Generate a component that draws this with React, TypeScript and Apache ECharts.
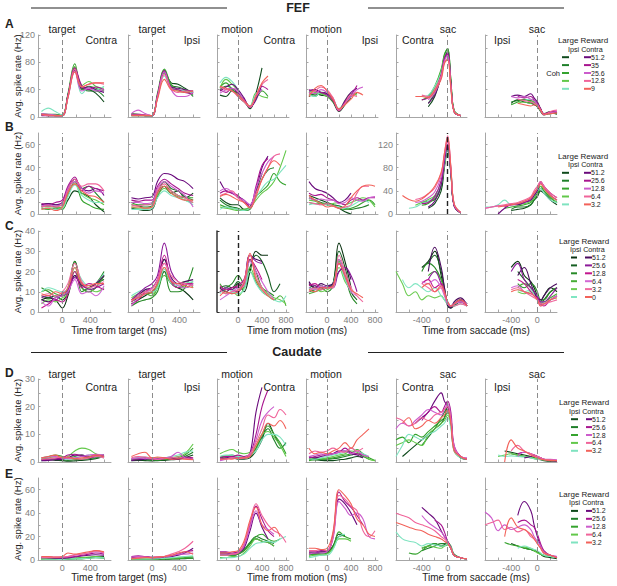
import React, { useEffect, useRef } from "react";
import * as echarts from "echarts";

const _ = null;

// time grids (ms)
const T_TARGET = [-300, -200, -100, 0, 80, 180, 280, 380, 480, 600];
const T_MOTION = [-300, -200, -100, 0, 100, 200, 300, 400, 500, 600, 700, 800];
const T_SAC = [-800, -700, -600, -500, -400, -300, -200, -100, -50, 0, 50, 100, 200, 300];

// colours: ipsi (greens) then contra (purples/reds), strongest coherence first
const IPSI5 = ["#0f4a1c", "#1f7f2a", "#35a32e", "#62c84a", "#7fe3c0"];
const CONTRA5 = ["#6a0a7c", "#a8158f", "#cc5ccc", "#f0649a", "#f2625a"];
const IPSI6 = ["#0b3312", "#165f22", "#288a28", "#47ad35", "#6ccc52", "#80e6c2"];
const CONTRA6 = ["#4a0a5e", "#8c1a99", "#c2168e", "#d268d4", "#f06ca0", "#f2625a"];

const COH_A = ["51.2", "35", "25.6", "12.8", "9"];
const COH_B = ["51.2", "25.6", "12.8", "6.4", "3.2"];
const COH_C = ["51.2", "25.6", "12.8", "6.4", "3.2", "0"];

// ---------- Row A : FEF ----------
const A1 = [
  [3, 2, 2, 2, 30, 72, 42, 40, 35, 22],
  [4, 3, 3, 3, 32, 70, 44, 38, 38, 30],
  [5, 4, 4, 3, 34, 78, 40, 45, 42, 38],
  [3, 3, 2, 2, 30, 74, 46, 52, 45, 42],
  [8, 13, 8, 3, 28, 70, 34, 42, 40, 45],
  [2, 2, 2, 2, 32, 68, 42, 44, 40, 36],
  [4, 3, 2, 2, 30, 72, 46, 40, 44, 40],
  [5, 4, 3, 2, 28, 66, 38, 42, 38, 40],
  [3, 2, 2, 2, 30, 70, 44, 48, 50, 48],
  [4, 3, 2, 2, 28, 66, 44, 48, 50, 50],
];
const A2 = [
  [2, 2, 2, 2, 30, 68, 50, 48, 42, 35],
  [3, 3, 2, 2, 32, 66, 46, 44, 40, 30],
  [5, 4, 3, 2, 35, 70, 48, 40, 38, 32],
  [3, 3, 2, 2, 30, 64, 44, 38, 36, 38],
  [2, 2, 2, 2, 28, 60, 42, 40, 38, 36],
  [3, 3, 2, 2, 30, 66, 44, 42, 40, 38],
  [4, 4, 3, 2, 32, 68, 42, 40, 36, 34],
  [5, 10, 5, 2, 30, 66, 40, 30, 30, 36],
  [3, 3, 3, 2, 28, 62, 42, 36, 38, 38],
  [2, 2, 2, 2, 26, 55, 40, 38, 36, 38],
];
const A3 = [
  [32, 30, 38, 35, 25, 12, 35, 72, _, _, _, _],
  [40, 45, 42, 30, 22, 14, 28, 40, _, _, _, _],
  [44, 50, 40, 32, 25, 14, 30, 38, 30, _, _, _],
  [42, 55, 48, 38, 24, 16, 35, 30, 28, _, _, _],
  [50, 58, 52, 40, 26, 16, 34, 40, _, _, _, _],
  [38, 44, 48, 40, 28, 14, 25, 48, _, _, _, _],
  [40, 36, 42, 35, 26, 14, 30, 45, 40, _, _, _],
  [35, 40, 42, 38, 24, 15, 30, 40, _, _, _, _],
  [44, 40, 38, 30, 22, 14, 32, 48, 55, _, _, _],
  [45, 42, 38, 32, 24, 16, 30, 50, 60, _, _, _],
];
const A4 = [
  [30, 34, 32, 30, 22, 8, 18, 30, _, _, _, _],
  [36, 32, 34, 32, 24, 10, 20, 28, _, _, _, _],
  [34, 30, 36, 34, 22, 10, 22, 30, 35, _, _, _],
  [38, 36, 34, 30, 24, 12, 24, 34, 32, _, _, _],
  [32, 30, 36, 32, 26, 12, 22, 30, _, _, _, _],
  [38, 40, 36, 34, 26, 10, 24, 36, 42, _, _, _],
  [40, 38, 36, 32, 24, 9, 22, 32, 46, _, _, _],
  [36, 34, 40, 36, 28, 10, 20, 30, 40, 44, _, _],
  [34, 38, 44, 40, 28, 10, 20, 32, 30, _, _, _],
  [30, 42, 46, 38, 26, 12, 18, 26, 36, 32, _, _],
];
const A5 = [
  [_, _, _, _, _, 15, 30, 60, 85, 95, 50, 8, 2, _],
  [_, _, _, _, _, 20, 35, 65, 90, 100, 55, 10, 2, _],
  [_, _, _, _, 25, 30, 45, 70, 92, 100, 55, 10, 2, _],
  [_, _, _, _, _, 28, 42, 68, 88, 95, 50, 8, 2, _],
  [_, _, _, _, 30, 32, 45, 65, 85, 90, 45, 8, 2, _],
  [_, _, _, _, _, 20, 32, 60, 85, 95, 50, 8, 2, _],
  [_, _, _, _, 25, 28, 38, 62, 86, 92, 48, 8, 2, _],
  [_, _, _, _, _, 25, 35, 58, 82, 90, 45, 8, 2, _],
  [_, _, _, _, 32, 30, 40, 60, 80, 86, 45, 8, 2, _],
  [_, _, _, 30, 30, 28, 38, 55, 78, 84, 42, 8, 2, _],
];
const A6 = [
  [_, _, _, _, 20, 25, 22, 20, 18, 15, 8, 3, 6, 4],
  [_, _, _, _, 22, 24, 26, 22, 20, 18, 10, 4, 5, 6],
  [_, _, _, _, 18, 22, 25, 24, 22, 20, 12, 4, 6, 5],
  [_, _, _, _, _, 20, 22, 20, 24, 22, 10, 5, 8, 6],
  [_, _, _, _, _, _, 24, 26, 25, 20, 10, 5, 6, 7],
  [_, _, _, _, 30, 32, 30, 34, 28, 22, 12, 4, 8, 6],
  [_, _, _, _, _, 30, 28, 30, 25, 20, 12, 5, 7, 8],
  [_, _, _, _, 30, 28, 30, 26, 24, 18, 10, 4, 6, 8],
  [_, _, _, _, _, 26, 24, 22, 20, 18, 10, 3, 8, 10],
  [_, _, _, _, _, 20, 18, 16, 18, 16, 10, 4, 5, 6],
];

// ---------- Row B : FEF ----------
const B1 = [
  [6, 7, 6, 5, 12, 20, 18, 15, 8, 2],
  [8, 9, 8, 7, 20, 30, 22, 24, 18, 10],
  [5, 4, 5, 4, 16, 28, 12, 8, 5, 4],
  [7, 6, 6, 5, 18, 26, 18, 14, 12, 8],
  [4, 5, 4, 5, 15, 25, 16, 12, 10, 10],
  [8, 9, 8, 10, 22, 30, 22, 20, 22, 16],
  [9, 8, 10, 12, 24, 32, 20, 24, 22, 20],
  [7, 8, 7, 8, 22, 28, 22, 18, 20, 18],
  [6, 7, 6, 9, 20, 30, 24, 26, 26, 20],
  [4, 5, 3, 6, 18, 26, 20, 16, 15, 10],
];
const B2 = [
  [5, 4, 3, 4, 15, 24, 18, 20, 14, 18],
  [8, 7, 6, 7, 18, 28, 22, 20, 15, 12],
  [10, 8, 8, 9, 20, 24, 20, 16, 14, 14],
  [6, 5, 5, 6, 16, 22, 18, 15, 12, 10],
  [4, 4, 4, 5, 14, 20, 16, 14, 12, 8],
  [14, 13, 14, 15, 28, 35, 34, 30, 28, 22],
  [12, 11, 12, 12, 24, 30, 26, 22, 18, 16],
  [10, 10, 9, 10, 22, 28, 24, 20, 16, 6],
  [8, 7, 8, 8, 20, 26, 20, 16, 14, 10],
  [6, 6, 5, 6, 18, 24, 18, 14, 12, 12],
];
const B3 = [
  [14, 10, 8, 8, 4, 6, 20, 35, _, _, _, _],
  [12, 8, 6, 5, 3, 4, 18, 30, 38, 40, _, _],
  [8, 6, 5, 4, 3, 5, 15, 20, 25, 35, 28, 25],
  [6, 5, 4, 3, 4, 6, 12, 18, 22, 28, 40, 55],
  [4, 6, 5, 4, 3, 5, 14, 22, 28, 30, 36, 42],
  [28, 20, 18, 15, 12, 6, 20, 40, 50, _, _, _],
  [18, 20, 18, 16, 10, 8, 24, 42, 48, _, _, _],
  [20, 22, 19, 14, 12, 8, 22, 35, 45, 50, _, _],
  [16, 18, 20, 14, 10, 6, 18, 30, 40, 50, 52, _],
  [15, 17, 15, 12, 10, 5, 15, 30, 40, 46, 42, _],
];
const B4 = [
  [16, 14, 12, 10, 8, 5, 2, 0, _, _, _, _],
  [14, 12, 10, 9, 8, 7, 5, 4, 5, 6, 8, _],
  [10, 9, 9, 8, 7, 5, 4, 5, 7, 10, 12, 8],
  [12, 11, 9, 8, 9, 10, 8, 10, 12, 14, 12, 6],
  [8, 9, 8, 8, 7, 6, 5, 7, 10, 12, 10, _],
  [28, 22, 20, 18, 14, 10, 12, 18, _, _, _, _],
  [18, 16, 17, 14, 12, 10, 8, 12, 14, 12, 14, 14],
  [14, 12, 13, 12, 12, 9, 10, 14, 12, 11, 14, 15],
  [10, 9, 8, 9, 7, 5, 6, 8, 18, 24, 24, _],
  [16, 12, 9, 6, 7, 5, 7, 14, 20, 24, 25, 24],
];
const B5 = [
  [_, _, _, _, _, 10, 18, 40, 80, 110, 70, 15, 2, _],
  [_, _, _, _, 20, 22, 25, 48, 85, 115, 72, 15, 2, _],
  [_, _, _, _, 15, 18, 28, 50, 88, 118, 75, 15, 2, _],
  [_, _, _, 15, 20, 25, 32, 55, 90, 120, 78, 16, 2, _],
  [_, _, 10, 12, 18, 22, 30, 52, 86, 112, 74, 18, 3, _],
  [_, _, _, _, _, 12, 22, 50, 90, 120, 72, 14, 2, _],
  [_, _, _, _, 18, 20, 30, 58, 95, 125, 75, 15, 2, _],
  [_, _, _, 20, 22, 28, 38, 65, 100, 130, 80, 16, 2, _],
  [_, _, _, 25, 28, 35, 45, 70, 105, 135, 82, 18, 3, _],
  [_, 32, 25, 22, 26, 35, 48, 72, 105, 132, 80, 18, 3, _],
];
const B6 = [
  [_, _, _, _, 3, 4, 5, 8, 12, 15, 20, 18, 12, 8],
  [_, _, _, _, 4, 6, 6, 8, 12, 16, 22, 20, 14, 10],
  [_, _, _, 5, 6, 7, 8, 10, 14, 18, 24, 20, 14, 10],
  [_, _, _, _, _, 8, 9, 11, 15, 20, 24, 22, 15, 10],
  [6, 6, 8, 12, 8, 9, 10, 12, 16, 20, 22, 18, 12, 10],
  [_, _, 0, 5, 8, 8, 10, 12, 16, 20, 27, 24, 16, 12],
  [_, _, _, 6, 8, 9, 10, 13, 18, 22, 28, 24, 18, 14],
  [5, 6, 7, 7, 8, 9, 11, 14, 18, 22, 27, 24, 16, 12],
  [5, 6, 7, 8, 9, 10, 12, 15, 20, 24, 28, 24, 18, 14],
  [_, _, 6, 7, 8, 9, 11, 14, 18, 22, 26, 22, 16, 12],
];

// ---------- Row C : FEF (6 coherences) ----------
const C1 = [
  [6, 7, 6, 2, 8, 18, 12, 10, 12, 18],
  [8, 7, 8, 6, 10, 25, 14, 12, 14, 16],
  [12, 10, 8, 8, 12, 25, 10, 12, 14, 20],
  [10, 11, 9, 8, 10, 20, 12, 10, 12, 18],
  [4, 6, 5, 7, 9, 22, 14, 12, 10, 12],
  [10, 12, 11, 10, 12, 22, 16, 13, 14, 19],
  [6, 5, 7, 8, 10, 18, 13, 12, 14, 18],
  [7, 8, 6, 9, 11, 17, 14, 11, 12, 14],
  [2, 4, 6, 5, 9, 20, 12, 14, 13, 11],
  [5, 3, 7, 8, 10, 16, 9, 10, 8, 13],
  [8, 9, 8, 10, 14, 24, 15, 12, 13, 15],
  [9, 8, 10, 9, 12, 22, 14, 13, 14, 14],
];
const C2 = [
  [4, 6, 8, 10, 12, 20, 14, 12, 10, 6],
  [5, 7, 9, 10, 14, 26, 16, 12, 12, 14],
  [3, 5, 6, 7, 10, 20, 10, 10, 12, 22],
  [6, 8, 9, 8, 12, 18, 14, 12, 13, 15],
  [7, 9, 10, 9, 13, 22, 15, 14, 15, 12],
  [8, 10, 11, 10, 12, 21, 14, 13, 14, 15],
  [5, 8, 11, 12, 16, 26, 17, 14, 15, 16],
  [6, 9, 12, 14, 18, 34, 20, 15, 14, 13],
  [4, 6, 10, 12, 16, 28, 15, 12, 14, 14],
  [3, 7, 9, 12, 15, 24, 16, 13, 12, 14],
  [5, 8, 10, 11, 16, 24, 18, 15, 14, 13],
  [6, 7, 9, 10, 14, 22, 15, 14, 13, 12],
];
const C3 = [
  [10, 12, 11, 14, 10, 20, 30, 28, 28, _, _, _],
  [12, 13, 12, 15, 12, 22, 28, 25, 18, 10, 14, _],
  [10, 12, 14, 18, 14, 26, 20, 12, 10, 8, _, _],
  [14, 10, 9, 11, 12, 20, 15, 10, 8, 6, 8, 3],
  [12, 9, 10, 8, 12, 22, 16, 12, 9, 7, 6, 4],
  [9, 12, 10, 9, 11, 20, 14, 10, 8, 6, 5, 8],
  [12, 10, 12, 12, 14, 28, 26, 25, _, _, _, _],
  [10, 12, 11, 10, 15, 28, 25, 24, _, _, _, _],
  [13, 11, 12, 13, 16, 26, 22, 16, _, _, _, _],
  [6, 8, 10, 12, 13, 25, 20, 15, 10, 6, _, _],
  [11, 9, 10, 11, 15, 28, 18, 12, 8, _, _, _],
  [8, 10, 9, 10, 14, 29, 16, 11, 8, 6, _, _],
];
const C4 = [
  [14, 12, 13, 12, 14, 34, 25, 12, _, _, _, _],
  [12, 13, 11, 12, 14, 30, 22, 10, 6, _, _, _],
  [10, 11, 12, 10, 13, 26, 18, 8, 4, _, _, _],
  [9, 10, 11, 12, 12, 25, 16, 10, _, _, _, _],
  [11, 12, 10, 11, 13, 22, 15, 11, _, _, _, _],
  [12, 11, 12, 13, 14, 24, 16, 10, _, _, _, _],
  [15, 12, 14, 13, 14, 20, 22, 16, _, _, _, _],
  [14, 13, 12, 13, 12, 20, 22, 18, 10, _, _, _],
  [13, 14, 12, 12, 13, 24, 18, 12, _, _, _, _],
  [12, 11, 13, 12, 12, 26, 18, 10, 8, _, _, _],
  [10, 12, 11, 12, 12, 28, 20, 12, 8, 5, _, _],
  [11, 10, 12, 12, 13, 24, 18, 11, 9, 7, _, _],
];
const C5 = [
  [_, _, _, _, 22, 25, 30, 18, 10, 3, 2, 4, 6, 3],
  [_, _, _, _, _, 24, 28, 20, 12, 4, 2, 3, 5, 4],
  [_, _, _, _, 20, 24, 22, 16, 10, 4, 3, 4, 6, 4],
  [_, _, _, _, _, 18, 20, 16, 10, 5, 3, 4, 5, 4],
  [20, 14, 8, 10, 6, 8, 7, 8, 6, 4, 3, 4, 5, 3],
  [_, 16, 12, 14, 12, 10, 12, 8, 6, 4, 3, 3, 4, 3],
  [_, _, _, _, _, 20, 32, 22, 12, 4, 2, 5, 7, 3],
  [_, _, _, _, _, 16, 20, 14, 10, 4, 3, 4, 6, 4],
  [_, _, _, _, 14, 16, 12, 14, 10, 5, 3, 4, 5, 3],
  [_, _, _, _, 15, 14, 16, 12, 8, 4, 3, 4, 5, 4],
  [_, _, _, _, 14, 12, 10, 12, 9, 5, 3, 3, 4, 3],
  [_, _, _, _, 12, 14, 10, 13, 10, 5, 3, 4, 6, 3],
];
const C6 = [
  [_, _, _, _, 22, 25, 18, 15, 12, 8, 5, 8, 12, 10],
  [_, _, _, _, _, 20, 16, 12, 10, 6, 4, 6, 10, 12],
  [_, _, _, _, _, 14, 12, 14, 13, 10, 6, 6, 10, 12],
  [_, _, _, _, _, 12, 14, 12, 10, 8, 5, 5, 7, 9],
  [_, _, _, _, _, 10, 9, 10, 9, 7, 4, 4, 6, 8],
  [_, _, _, _, _, 11, 10, 11, 9, 8, 5, 5, 6, 7],
  [_, _, _, _, _, 18, 22, 14, 10, 7, 6, 8, 12, 14],
  [_, _, _, _, 20, 24, 16, 12, 10, 8, 5, 5, 8, 12],
  [_, _, _, _, _, 16, 14, 10, 8, 7, 4, 3, 6, 8],
  [_, _, _, _, 12, 13, 10, 9, 8, 6, 3, 4, 6, 8],
  [_, _, _, _, 11, 12, 10, 8, 7, 6, 4, 4, 5, 6],
  [_, _, _, _, 10, 11, 10, 9, 8, 6, 3, 4, 6, 7],
];

// ---------- Row D : Caudate ----------
const D1 = [
  [0.5, 0.8, 0.6, 0.5, 0.3, 0.4, 0.6, 0.8, 1.2, 2],
  [1, 1.2, 1, 0.8, 0.6, 0.8, 1, 1.2, 1.5, 1.8],
  [1.5, 2, 2.5, 2, 1.5, 2, 2.5, 2, 2.5, 2.5],
  [1, 1.5, 1.8, 1.5, 2, 4, 5, 4.5, 3, 2],
  [0.5, 1, 1.5, 1.2, 1, 1.5, 2, 2.5, 2.2, 1.5],
  [0.5, 0.6, 0.8, 1, 1.5, 2.5, 2.5, 1.5, 2, 2.5],
  [0.8, 1, 1.2, 1.5, 2.5, 2.8, 2, 1.8, 2.5, 2],
  [1.5, 1.8, 2, 1.5, 1.2, 1.5, 2, 2.5, 2.8, 2.5],
  [1, 1.2, 1.5, 1.8, 1.5, 1.2, 1, 1.5, 2, 1.5],
  [1.5, 2, 2.5, 1.5, 1.8, 1.2, 1.5, 1.8, 2.5, 2],
];
const D2 = [
  [0.5, 0.6, 0.5, 0.4, 0.5, 0.6, 0.8, 1, 1.5, 2.5],
  [0.8, 1, 0.8, 0.6, 0.6, 0.8, 1, 1.2, 2, 3.5],
  [1, 1.2, 1, 1, 0.8, 1, 1.2, 1.5, 2.5, 5],
  [1.2, 1.5, 1.2, 1.4, 1.5, 1.2, 1.5, 2, 3, 6.5],
  [1, 1.5, 1.8, 1.5, 1.2, 1.5, 2, 2.5, 3.5, 4],
  [0.5, 0.8, 1, 1.2, 1, 1.2, 1.5, 1, 1.5, 1],
  [1, 1.2, 1.5, 1, 1.2, 1.5, 1, 1.2, 1.8, 1.5],
  [1.2, 1.5, 1.2, 1.5, 1, 1.5, 2, 3.5, 1.5, 1],
  [1.5, 2, 1.8, 1.2, 1, 1.2, 1.5, 1.8, 1.2, 1],
  [2, 3, 3.5, 1.5, 1.8, 1.5, 1, 1.2, 1, 0.8],
];
const D3 = [
  [1, 1.2, 1.5, 1, 1, 1.5, 4, 8, 14, 10, 6, _],
  [1.5, 1.8, 2, 1.5, 1.5, 2, 5, 9, 12, 8, 5, 7],
  [2, 2.2, 2.5, 2, 2, 2.5, 5, 10, 13, 10, 7, 3],
  [3, 4, 4.5, 3.5, 3, 3.5, 6, 10, 11, 9, 6, 2],
  [2, 2.5, 2.5, 2, 2, 2.5, 4, 8, 10, 10, 9, 6],
  [1, 1.5, 2, 1.5, 1.5, 3, 18, 27, _, _, _, _],
  [1.5, 2, 2, 2.5, 2, 3, 10, 20, 26, _, _, _],
  [0.5, 1, 1.5, 1.5, 1.5, 2.5, 8, 15, 18, 20, _, _],
  [1, 1, 1.5, 1.2, 1.5, 3, 7, 12, 17, 16, 19, 17],
  [1, 1.2, 1, 1.5, 1.5, 2, 6, 10, 14, 13, 15, 12],
];
const D4 = [
  [1, 0.8, 0.6, 0.5, 0.5, 0.8, 1, 1.5, 2, 1.5, _, _],
  [1.5, 1.2, 1, 1, 1.2, 1.5, 2, 2.5, 3, 2, 1, _],
  [0.5, 0.8, 1, 1.2, 1.5, 2, 2.5, 3, 4.5, 3, 1.5, 0.5],
  [1, 1.5, 1.2, 1.5, 2, 2.5, 3, 4, 3.5, 2.5, 1, 0.5],
  [1.2, 1, 1.5, 2, 2.5, 3, 3.5, 5, 4, 3, 2, _],
  [2, 1.5, 2, 2.5, 3, 4, 4, 3, 2.5, 1.5, _, _],
  [1.5, 2, 2.5, 3, 3, 3.5, 5, 3.5, 3, 2.5, _, _],
  [2, 2.5, 3, 2.5, 3, 3.5, 4, 3, 4, 2.5, 2, _],
  [3, 4, 3.5, 4, 5, 4, 3.5, 5, 4, 5, _, _],
  [5, 3, 3.5, 3, 4, 5, 7, 5, 8, 10, 12, _],
];
const D5 = [
  [_, 2, 4, 6, 8, 10, 12, 14, 16, 20, 16, 5, 1.5, 1],
  [_, _, _, _, 6, 9, 12, 16, 18, 20, 15, 5, 1.5, 1],
  [8, 9, 7, 10, 9, 11, 13, 15, 16, 18, 14, 4, 1.5, 1],
  [6, 7, 8, 7, 6, 10, 12, 14, 15, 17, 13, 5, 2, 1],
  [2, 6, 10, 9, 8, 10, 11, 13, 14, 16, 12, 4, 1.5, 1],
  [_, _, _, 14, 16, 18, 22, 25, 22, 20, 15, 5, 2, 1],
  [_, _, _, _, 15, 18, 20, 18, 20, 22, 18, 6, 2, 1],
  [12, 14, 13, 15, 17, 19, 18, 17, 19, 21, 16, 6, 2, 1.5],
  [16, 15, 13, 14, 16, 15, 17, 18, 19, 20, 15, 5, 2, 1],
  [_, 14, 16, 12, 13, 15, 14, 16, 17, 19, 14, 4, 2, 1],
];
const D6 = [
  [_, _, _, 4, 3.5, 3, 2.5, 2, 1.5, 1, 0.8, 0.5, 0.3, 0.3],
  [_, _, _, _, 3, 2.5, 2, 1.8, 1.5, 1.2, 1, 0.8, 0.5, 0.3],
  [_, _, _, _, _, 2, 2, 1.8, 1.5, 1.2, 1, 0.8, 0.5, 0.5],
  [_, _, 2, 2.5, 3, 2.5, 2, 1.5, 1.2, 1, 1, 0.8, 0.6, 0.5],
  [_, _, 2.5, 2, 2.2, 2, 1.8, 1.5, 1.2, 1, 0.8, 0.8, 0.6, 0.5],
  [_, _, _, _, _, _, 1.5, 2, 2.5, 2, 1.5, 1, 0.5, 0.3],
  [_, _, _, _, _, 3, 3.5, 3, 2.5, 2, 1.5, 1, 0.8, 0.5],
  [_, _, _, _, _, 2, 3.5, 3, 2, 2, 1.5, 1, 1, 0.8],
  [_, _, _, _, 4, 6, 4, 3, 2.5, 2, 1.5, 1, 0.8, 0.5],
  [_, _, _, 0, 8, 5, 4, 2.5, 2, 1.5, 1, 0.8, 0.5, 0.5],
];

// ---------- Row E : Caudate ----------
const E1 = [
  [1, 1, 0.8, 0.8, 1, 1.2, 1.5, 2, 2.5, 3],
  [1.5, 1.2, 1, 1, 1.2, 1.5, 2, 2, 2.5, 2],
  [0.5, 0.5, 0.4, 0.5, 0.6, 0.8, 1, 1.5, 2, 1.5],
  [1, 1, 1, 0.8, 1, 1.5, 2, 2.5, 3, 2],
  [0.8, 0.6, 0.6, 0.5, 0.8, 1, 1.2, 1.5, 2, 1.8],
  [2, 1.8, 1.6, 1.5, 1.8, 2.5, 3.5, 4, 4.5, 4],
  [2.5, 2.2, 2, 2, 2.5, 3, 4, 5, 6, 5],
  [3, 2.8, 2.5, 2.5, 3, 4, 5, 6, 7, 6],
  [2, 2, 2.2, 2.5, 3, 4.5, 5, 6, 8, 6],
  [3, 3, 2.5, 3, 6, 5, 6, 7, 8, 7],
];
const E2 = [
  [0.5, 0.5, 0.4, 0.4, 0.5, 0.6, 0.8, 1, 1.2, 1.5],
  [1, 0.8, 0.8, 0.6, 0.8, 1, 1.2, 1.5, 2, 2.5],
  [0.5, 0.6, 0.6, 0.6, 0.8, 1, 1, 1.2, 1.5, 1.5],
  [1, 1, 0.8, 0.8, 1, 1.2, 1.5, 2, 2.5, 3],
  [0.8, 0.8, 1, 1, 1.2, 1.5, 2, 2.5, 3, 3.5],
  [2, 2.5, 3, 2, 2, 2.5, 3, 4, 6, 10],
  [3, 3.5, 3, 2.5, 2.5, 3, 4, 5, 7, 8],
  [2.5, 3, 2.5, 2, 2.5, 3, 3.5, 5, 5, 6],
  [1.5, 2, 2.5, 2, 2.5, 3, 5, 7, 10, 16],
  [1, 1.5, 2, 2, 2.5, 3, 4, 6, 7, 5],
];
const E3 = [
  [5, 5, 4, 5, 8, 14, 18, 16, 15, 12, _, _],
  [6, 6, 5, 6, 9, 15, 20, 18, 16, 14, _, _],
  [4, 4, 4, 5, 8, 14, 20, 22, 18, 16, 18, _],
  [2, 2, 3, 3, 6, 12, 18, 16, 15, 12, _, _],
  [1, 2, 2, 3, 5, 10, 14, 15, 16, 15, 18, 20],
  [6, 6, 5, 6, 10, 25, 40, 28, 18, _, _, _],
  [7, 7, 6, 7, 12, 30, 46, 35, 25, 20, _, _],
  [5, 5, 5, 6, 12, 28, 42, 30, 26, 22, _, _],
  [4, 4, 5, 6, 14, 32, 48, 38, 30, 25, 22, 15],
  [6, 6, 7, 8, 16, 34, 45, 30, 25, 28, 20, _],
];
const E4 = [
  [5, 5, 6, 6, 12, 22, 20, _, _, _, _, _],
  [6, 6, 7, 7, 12, 20, 21, _, _, _, _, _],
  [4, 5, 5, 6, 10, 24, 20, 18, _, _, _, _],
  [3, 4, 4, 5, 10, 18, 18, 16, _, _, _, _],
  [2, 3, 4, 4, 9, 20, 22, _, _, _, _, _],
  [6, 6, 7, 7, 20, 52, 48, 40, 30, _, _, _],
  [7, 7, 8, 8, 22, 58, 50, 45, 38, 30, _, _],
  [5, 6, 6, 7, 18, 50, 44, 38, 40, 35, 20, 18],
  [8, 8, 9, 8, 20, 55, 52, 46, 42, 25, 20, 25],
  [10, 10, 9, 10, 24, 60, 55, 48, 35, 30, 22, 20],
];
const E5 = [
  [_, _, _, _, 10, 12, 14, 12, 13, 14, 10, 4, 2, 1],
  [_, _, _, _, 8, 10, 12, 14, 14, 15, 12, 5, 2, 1],
  [_, _, 6, 5, 8, 12, 14, 12, 12, 13, 10, 4, 2, 1],
  [_, _, _, _, 10, 12, 11, 10, 12, 13, 10, 4, 2, 1],
  [24, 18, 16, 15, 12, 14, 13, 12, 12, 14, 11, 4, 2, 1],
  [_, _, _, _, 45, 40, 35, 25, 20, 16, 10, 4, 2, 1],
  [_, _, _, _, _, _, 34, 30, 24, 16, 10, 4, 2, 1],
  [_, _, _, _, 38, 32, 28, 24, 20, 15, 10, 4, 2, 1],
  [40, 38, 36, 32, 30, 28, 25, 20, 18, 15, 10, 4, 2, 1],
  [32, 30, 28, 26, 25, 22, 20, 18, 16, 14, 10, 4, 2, 1],
];
const E6 = [
  [_, _, _, _, 14, 12, 10, 9, 8, 7, 5, 3, 2, 1],
  [_, _, _, _, _, _, 10, 9, 8, 7, 5, 4, 3, 2],
  [_, _, _, 15, 13, 12, 10, 9, 8, 7, 5, 4, 3, 2],
  [_, _, _, _, _, 12, 11, 10, 8, 6, 5, 4, 3, 2],
  [_, _, _, _, _, 10, 12, 10, 9, 8, 6, 4, 3, 2],
  [_, _, _, _, _, 38, 50, 42, 30, 20, 12, 6, 4, 2],
  [_, _, _, _, _, 32, 34, 30, 28, 22, 14, 8, 4, 3],
  [41, 36, 25, 30, 26, 28, 30, 26, 20, 16, 12, 6, 4, 3],
  [30, 32, 34, 26, 28, 24, 26, 20, 18, 14, 10, 6, 4, 2],
  [_, _, _, 20, 36, 28, 26, 22, 18, 14, 10, 6, 4, 2],
];

const PANELS = [
  [A1, A2, A3, A4, A5, A6],
  [B1, B2, B3, B4, B5, B6],
  [C1, C2, C3, C4, C5, C6],
  [D1, D2, D3, D4, D5, D6],
  [E1, E2, E3, E4, E5, E6],
];

// tick values
const X_TICKS_T = [-200, 0, 200, 400, 600];
const X_LABELS_T = [0, 400];
const X_TICKS_M = [-200, 0, 200, 400, 600, 800];
const X_LABELS_M = [0, 400, 800];
const X_TICKS_S = [-800, -600, -400, -200, 0, 200];
const X_LABELS_S = [-400, 0];

const FONT = "'Liberation Sans', Arial, Helvetica, sans-serif";
const AXIS = "#a6a6a6";
const TICKLABEL = "#808080";
const INK = "#222222";

const COLS = [
  { left: 38, right: 111, t: T_TARGET, min: -350, max: 700, ticks: X_TICKS_T, labels: X_LABELS_T },
  { left: 128, right: 200, t: T_TARGET, min: -350, max: 700, ticks: X_TICKS_T, labels: X_LABELS_T },
  { left: 217, right: 289, t: T_MOTION, min: -350, max: 850, ticks: X_TICKS_M, labels: X_LABELS_M },
  { left: 306, right: 378, t: T_MOTION, min: -350, max: 850, ticks: X_TICKS_M, labels: X_LABELS_M },
  { left: 396, right: 467, t: T_SAC, min: -800, max: 300, ticks: X_TICKS_S, labels: X_LABELS_S },
  { left: 485, right: 557, t: T_SAC, min: -800, max: 300, ticks: X_TICKS_S, labels: X_LABELS_S },
];
const ROWS = [
  { top: 35, bottom: 117, max: 120, ticks: [0, 20, 40, 60, 80, 100, 120], labels: [0, 40, 80, 120] },
  { top: 133, bottom: 214, max: 70, ticks: [0, 10, 20, 30, 40, 50, 60], labels: [0, 20, 40, 60] },
  { top: 231, bottom: 312, max: 40, ticks: [0, 10, 20, 30, 40], labels: [0, 10, 20, 30, 40] },
  { top: 379, bottom: 462, max: 30, ticks: [0, 5, 10, 15, 20, 25, 30], labels: [0, 10, 20, 30] },
  { top: 478, bottom: 560, max: 70, ticks: [0, 10, 20, 30, 40, 50, 60], labels: [0, 20, 40, 60] },
];
const B5_TICKS = [0, 20, 40, 60, 80, 100, 120, 140];
const B5_LABELS = [0, 40, 80, 120];

const EVENTS = ["target", "target", "motion", "motion", "sac", "sac"];
const SIDES = ["Contra", "Ipsi", "Contra", "Ipsi", "Contra", "Ipsi"];

function txt(x: number, y: number, s: string, size: number, opts: any = {}) {
  const align = opts.align || "center";
  const va = opts.va || "middle";
  const style: any = {
    text: s,
    fill: opts.fill || INK,
    font: `${opts.bold ? "bold " : ""}${size}px ${FONT}`,
    align,
    verticalAlign: va,
    textAlign: align,
    textVerticalAlign: va,
  };
  return {
    type: "text",
    x,
    y,
    rotation: opts.rotation || 0,
    silent: true,
    z: 100,
    style,
  };
}

function hline(x1: number, x2: number, y: number, color: string, w: number) {
  return { type: "line", silent: true, z: 100, shape: { x1, y1: y, x2, y2: y }, style: { stroke: color, lineWidth: w } };
}

const LEG_STEP = 7.9;
function legend(els: any[], cfg: any, labels: string[], ipsi: string[], contra: string[], coh: boolean) {
  const subY = cfg.titleY + 8.5;
  const itemY = subY + 8;
  els.push(txt(cfg.titleX, cfg.titleY, "Large Reward", 8));
  els.push(txt(cfg.subX, subY, "Ipsi Contra", 7.2, { align: "left" }));
  labels.forEach((lab, i) => {
    const y = itemY + i * LEG_STEP;
    els.push(hline(cfg.ipsi[0], cfg.ipsi[1], y, ipsi[i], 2));
    els.push(hline(cfg.contra[0], cfg.contra[1], y, contra[i], 2));
    els.push(txt(cfg.labelX, y, lab, 7, { align: "left" }));
  });
  if (coh) els.push(txt(cfg.ipsi[0] - 2, itemY + 2 * LEG_STEP, "Coh", 7.5, { align: "right" }));
}

function buildOption() {
  const grid: any[] = [];
  const xAxis: any[] = [];
  const yAxis: any[] = [];
  const series: any[] = [];

  ROWS.forEach((row, r) => {
    COLS.forEach((col, c) => {
      const idx = r * 6 + c;
      const special = r === 1 && c === 4;
      const darkAxis = r === 2 && c === 2;
      const darkDash = special || darkAxis;
      grid.push({
        left: col.left,
        top: row.top,
        width: col.right - col.left,
        height: row.bottom - row.top,
      });
      xAxis.push({
        type: "value",
        gridIndex: idx,
        min: col.min,
        max: col.max,
        axisLine: { show: true, onZero: false, lineStyle: { color: AXIS, width: 1 } },
        axisTick: { show: true, inside: true, length: 2.5, customValues: col.ticks, lineStyle: { color: AXIS } },
        axisLabel: {
          show: r === 2 || r === 4,
          customValues: col.labels,
          color: TICKLABEL,
          fontSize: 9,
          fontFamily: FONT,
          margin: 3,
        },
        splitLine: { show: false },
      });
      yAxis.push({
        type: "value",
        gridIndex: idx,
        min: 0,
        max: special ? 140 : row.max,
        axisLine: { show: true, onZero: false, lineStyle: { color: darkAxis ? "#333" : AXIS, width: darkAxis ? 1.5 : 1 } },
        axisTick: {
          show: true,
          inside: true,
          length: 2.5,
          customValues: special ? B5_TICKS : row.ticks,
          lineStyle: { color: darkAxis ? "#333" : AXIS },
        },
        axisLabel: {
          show: c === 0 || special,
          customValues: special ? B5_LABELS : row.labels,
          color: TICKLABEL,
          fontSize: 9,
          fontFamily: FONT,
          margin: 3,
        },
        splitLine: { show: false },
      });
      const lines = PANELS[r][c];
      const pal = r === 2 ? [...IPSI6, ...CONTRA6] : [...IPSI5, ...CONTRA5];
      lines.forEach((vals: any[], k: number) => {
        const s: any = {
          type: "line",
          xAxisIndex: idx,
          yAxisIndex: idx,
          data: col.t.map((t, i) => [t, vals[i]]),
          showSymbol: false,
          symbol: "none",
          smooth: 0.4,
          connectNulls: false,
          silent: true,
          lineStyle: { width: 1.1, color: pal[k] },
          itemStyle: { color: pal[k] },
        };
        if (k === 0) {
          s.markLine = {
            silent: true,
            symbol: ["none", "none"],
            label: { show: false },
            lineStyle: {
              type: [5, 3],
              color: darkDash ? "#222" : "#8c8c8c",
              width: darkDash ? 1.4 : 1,
            },
            data: [{ xAxis: 0 }],
          };
        }
        series.push(s);
      });
    });
  });

  const els: any[] = [];
  // section titles
  els.push(hline(31, 227, 8, "#222", 1.2));
  els.push(hline(368, 564, 8, "#222", 1.2));
  els.push(txt(298, 8, "FEF", 12.5, { bold: true }));
  els.push(hline(31, 227, 352.5, "#222", 1.2));
  els.push(hline(368, 564, 352.5, "#222", 1.2));
  els.push(txt(297, 352, "Caudate", 12.5, { bold: true }));

  // panel letters
  const letters = ["A", "B", "C", "D", "E"];
  const letterY = [24, 127, 226, 373, 474];
  letters.forEach((L, i) => els.push(txt(5, letterY[i], L, 12, { bold: true, align: "left" })));

  // y-axis titles
  ROWS.forEach((row) => {
    els.push(txt(17.5, (row.top + row.bottom) / 2, "Avg. spike rate (Hz)", 9.5, { rotation: Math.PI / 2 }));
  });

  // headers (rows A and D)
  const eventX = [62, 152, 237, 326, 448, 537];
  const sideX = [117, 200, 295, 378, 402, 494];
  [[29, 40], [373.5, 386.5]].forEach(([y1, y2]) => {
    EVENTS.forEach((e, c) => {
      els.push(txt(eventX[c], y1, e, 10.5));
      els.push(txt(sideX[c], y2, SIDES[c], 10.5, { align: c >= 4 ? "left" : "right" }));
    });
  });

  // x-axis titles
  [330, 577.5].forEach((y) => {
    els.push(txt(119, y, "Time from target (ms)", 10));
    els.push(txt(297, y, "Time from motion (ms)", 10));
    els.push(txt(476, y, "Time from saccade (ms)", 10));
  });

  // legends
  legend(els, { titleX: 583, titleY: 40.7, subX: 568, ipsi: [562, 569], contra: [584, 591], labelX: 591 }, COH_A, IPSI5, CONTRA5, true);
  legend(els, { titleX: 583, titleY: 156.3, subX: 568, ipsi: [562, 569], contra: [584, 591], labelX: 591 }, COH_B, IPSI5, CONTRA5, false);
  legend(els, { titleX: 584, titleY: 241, subX: 570, ipsi: [571, 577], contra: [585, 592], labelX: 592 }, COH_C, IPSI6, CONTRA6, false);
  legend(els, { titleX: 584, titleY: 402.7, subX: 569, ipsi: [571, 578], contra: [586, 592], labelX: 592 }, COH_B, IPSI5, CONTRA5, false);
  legend(els, { titleX: 584, titleY: 494.4, subX: 569, ipsi: [571, 578], contra: [586, 592], labelX: 592 }, COH_B, IPSI5, CONTRA5, false);

  return {
    animation: false,
    backgroundColor: "#ffffff",
    textStyle: { fontFamily: FONT },
    grid,
    xAxis,
    yAxis,
    series,
    graphic: { elements: els },
  };
}

export default function App() {
  const ref = useRef<HTMLDivElement>(null);
  useEffect(() => {
    if (!ref.current) return;
    const chart = echarts.init(ref.current, undefined, { renderer: "svg" });
    chart.setOption(buildOption() as any);
    return () => chart.dispose();
  }, []);
  return (
    <div
      ref={ref}
      style={{ position: "fixed", left: 0, top: 0, width: 617, height: 586, background: "#fff" }}
    />
  );
}
